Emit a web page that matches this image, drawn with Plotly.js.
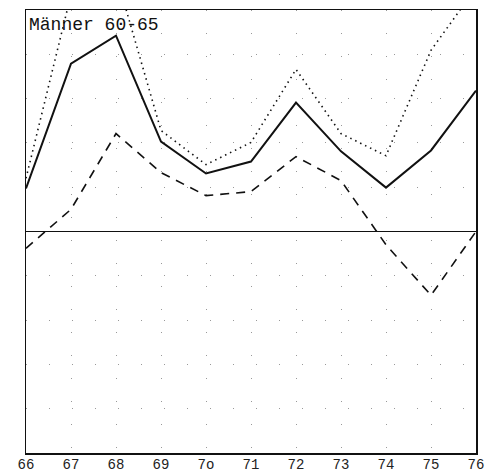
<!DOCTYPE html>
<html>
<head>
<meta charset="utf-8">
<script src="https://cdn.plot.ly/plotly-3.0.1.min.js"></script>
<style>html,body{margin:0;padding:0;background:#fff;}#chart{width:485px;height:472px;}</style>
</head>
<body>
<div id="chart"></div>
<script>
const years = [66, 67, 68, 69, 70, 71, 72, 73, 74, 75, 76];
const yearLabels = ["66", "67", "68", "69", "7o", "71", "72", "73", "74", "75", "76"];
const solidSeries = [0.97, 3.79, 4.42, 2.03, 1.31, 1.58, 2.91, 1.81, 0.99, 1.83, 3.18];
const dottedSeries = [1.2, 5.35, 5.8, 2.28, 1.51, 2.01, 3.66, 2.21, 1.71, 4.09, 5.5];
const dashedSeries = [-0.38, 0.5, 2.21, 1.33, 0.81, 0.9, 1.69, 1.15, -0.3, -1.44, 0.0];
const chartTitle = "Männer 60-65";

const traces = [
  {x: years, y: dottedSeries, mode: 'lines', line: {color: '#111', width: 1.6, dash: '1.5px,4px'}, hoverinfo: 'skip'},
  {x: years, y: solidSeries, mode: 'lines', line: {color: '#111', width: 2}, hoverinfo: 'skip'},
  {x: years, y: dashedSeries, mode: 'lines', line: {color: '#111', width: 1.6, dash: '9px,7px'}, hoverinfo: 'skip'}
];

const layout = {
  width: 485, height: 472,
  margin: {l: 26, r: 9, t: 10, b: 19, pad: 0},
  paper_bgcolor: '#fff', plot_bgcolor: '#fff',
  showlegend: false,
  font: {family: 'Liberation Mono, monospace', color: '#222'},
  xaxis: {
    range: [66, 76], tickvals: years, ticktext: yearLabels,
    ticks: '', showline: true, mirror: true, linecolor: '#111', linewidth: 1.5,
    showgrid: true, gridcolor: '#999', gridwidth: 1, griddash: '1px,22px',
    zeroline: false, tickfont: {family: 'Liberation Mono, monospace', size: 14, color: '#222'},
    ticklabelstandoff: -2, ticklabeloverflow: 'allow', fixedrange: true
  },
  yaxis: {
    range: [-5, 5], dtick: 1, showticklabels: false, ticks: '',
    showline: true, mirror: true, linecolor: '#111', linewidth: 1.5,
    showgrid: true, gridcolor: '#999', gridwidth: 1, griddash: '1px,22px',
    zeroline: true, zerolinecolor: '#111', zerolinewidth: 1.5, fixedrange: true
  },
  annotations: [{
    text: chartTitle, xref: 'paper', yref: 'paper', x: 0, y: 1,
    xanchor: 'left', yanchor: 'top', showarrow: false, xshift: 1, yshift: -3,
    font: {family: 'Liberation Mono, monospace', size: 18, color: '#111'}
  }]
};

Plotly.newPlot('chart', traces, layout, {displayModeBar: false, staticPlot: true});
</script>
</body>
</html>
